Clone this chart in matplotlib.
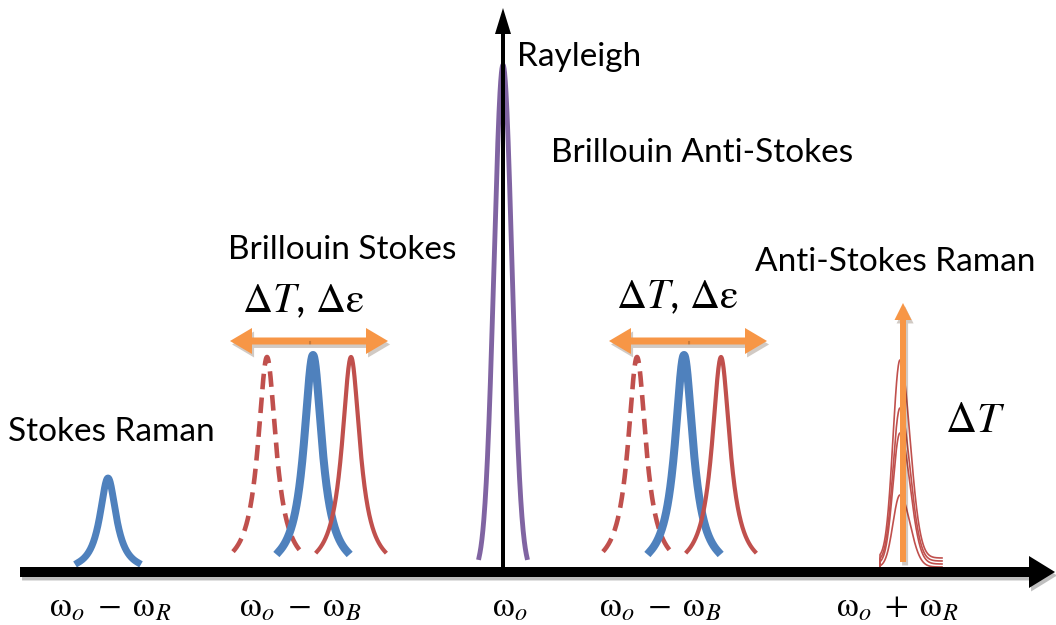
import numpy as np
import matplotlib.pyplot as plt
import matplotlib.patheffects as pe

plt.rcParams['font.family'] = ['Lato', 'DejaVu Sans']
plt.rcParams['mathtext.fontset'] = 'stix'

# office style colours
blue = '#4F81BD'
red = '#C0504D'
purple = '#8064A2'
orange = '#F79646'

# peak centres (arbitrary frequency units) and heights (arbitrary intensity)
stokes_raman_x = 108
stokes_raman_h = 94
rayleigh_x = 503
rayleigh_h = 507
brill_stokes_x = [267, 313, 351]   # dashed red, blue, red
brill_anti_x = [637, 684, 721]
brill_h = [215, 217, 215]
anti_raman_x = 900
anti_raman_h = [212, 164, 139, 77]
anti_raman_base = [14, 11, 8, 5]

tick_pos = [110, 300, 510, 660, 897]
tick_labels = [r'$\mathrm{\omega}_o\;-\;\mathrm{\omega}_R$', r'$\mathrm{\omega}_o\;-\;\mathrm{\omega}_B$',
               r'$\mathrm{\omega}_o$',
               r'$\mathrm{\omega}_o\;-\;\mathrm{\omega}_B$', r'$\mathrm{\omega}_o\;+\;\mathrm{\omega}_R$']


def lorentz(x, x0, h, g):
    return h / (1 + ((x - x0) / g) ** 2)


def gauss(x, x0, h, s):
    return h * np.exp(-0.5 * ((x - x0) / s) ** 2)


fig = plt.figure(figsize=(10.56, 6.25), dpi=100)
ax = fig.add_axes([0, 0, 1, 1])
ax.set_xlim(0, 1056)
ax.set_ylim(-53, 572)
ax.axis('off')

shadow = [pe.SimplePatchShadow(offset=(1.5, -2.5), alpha=0.25), pe.Normal()]

# Stokes Raman
x = np.linspace(stokes_raman_x - 30, stokes_raman_x + 30, 200)
ax.plot(x, lorentz(x, stokes_raman_x, stokes_raman_h, 10), color=blue, lw=5)

# Rayleigh
x = np.linspace(rayleigh_x - 24, rayleigh_x + 24, 200)
ax.plot(x, gauss(x, rayleigh_x, rayleigh_h, 9), color=purple, lw=3.5)

# Brillouin peaks
for centres in (brill_stokes_x, brill_anti_x):
    styles = [dict(color=red, lw=3.3, dashes=(3.4, 1.8)),
              dict(color=blue, lw=5.8),
              dict(color=red, lw=3)]
    for c, h, st in zip(centres, brill_h, styles):
        x = np.linspace(c - 34, c + 34, 300)
        ax.plot(x, lorentz(x, c, h, 11), **st)

# anti-Stokes Raman (temperature dependent heights)
for h, b in zip(anti_raman_h, anti_raman_base):
    x = np.linspace(anti_raman_x - 23, anti_raman_x + 42, 300)
    s = np.where(x < anti_raman_x, 7, 10)
    y = gauss(x, anti_raman_x, h - b, s) + b * (x > anti_raman_x - 20)
    ax.plot(x, y, color=red, lw=1.2)

# axes arrows
ax.arrow(20, 0, 1035, 0, width=10, head_width=32, head_length=26,
         length_includes_head=True, color='black', lw=0, zorder=5,
         path_effects=shadow)
ax.arrow(rayleigh_x, 0, 0, 564, width=4, head_width=16, head_length=26,
         length_includes_head=True, color='black', lw=0, zorder=5)

# orange shift arrows
for mid in (309, 688):
    for d in (79, -79):
        ax.arrow(mid, 231, d, 0, width=7, head_width=26, head_length=22,
                 length_includes_head=True, color=orange, lw=0, zorder=6,
                 path_effects=shadow)
ax.arrow(903, 10, 0, 259, width=6, head_width=17, head_length=17,
         length_includes_head=True, color=orange, lw=0, zorder=6,
         path_effects=shadow)

# labels
fs = 24
ax.text(517, 515, 'Rayleigh', fontsize=fs, ha='left', va='center')
ax.text(551, 419, 'Brillouin Anti-Stokes', fontsize=fs, ha='left', va='center')
ax.text(228, 322, 'Brillouin Stokes', fontsize=fs, ha='left', va='center')
ax.text(755, 310, 'Anti-Stokes Raman', fontsize=fs, ha='left', va='center')
ax.text(8, 140, 'Stokes Raman', fontsize=fs, ha='left', va='center')

dlab = r'$\Delta T$, $\Delta\mathrm{\varepsilon}$'
ax.text(303, 271, dlab, fontsize=30, ha='center', va='center')
ax.text(677, 275, dlab, fontsize=30, ha='center', va='center')
ax.text(945, 152, r'$\Delta T$', fontsize=31, ha='left', va='center')

for p, lab in zip(tick_pos, tick_labels):
    ax.text(p, -35, lab, fontsize=25, ha='center', va='center')

fig.savefig('out.png', dpi=100)
